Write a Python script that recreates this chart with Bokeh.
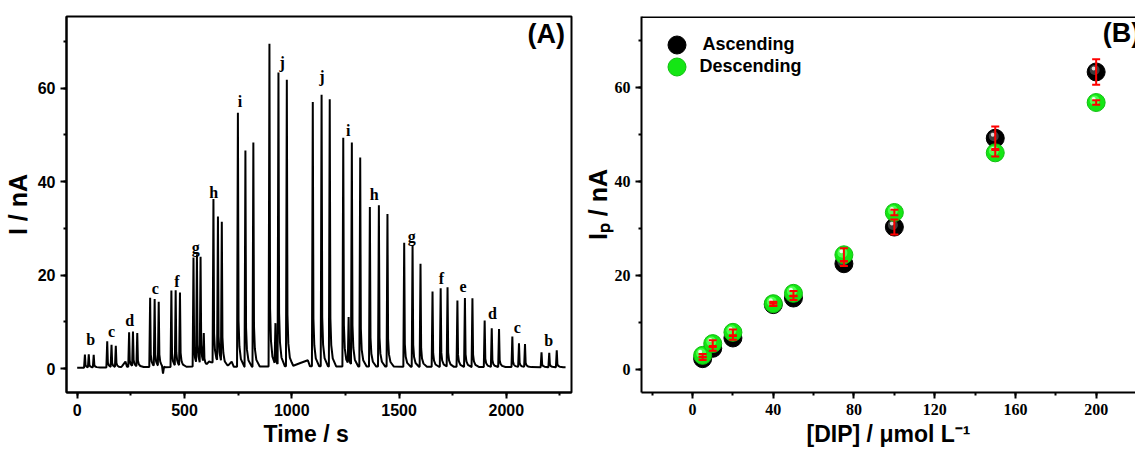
import numpy as np
from bokeh.plotting import figure
from bokeh.layouts import row
from bokeh.models import (Label, Legend, LegendItem, Whisker, TeeHead, ColumnDataSource,
                          SingleIntervalTicker, Span, Range1d)
from bokeh.transform import dodge
from bokeh.core.properties import value
from bokeh.embed import file_html
from bokeh.resources import INLINE

# ---------------- Panel A data (amperometric trace) ----------------
peak_t = [36, 54, 77, 140, 160, 180, 242, 260, 280, 340, 361, 380, 439, 459, 479,
          542, 558, 575, 590, 635, 656, 674, 749, 784, 821, 896, 924, 938, 977,
          1098, 1139, 1177, 1240, 1265, 1280, 1319, 1364, 1406, 1446, 1524, 1563, 1600,
          1656, 1694, 1726, 1772, 1807, 1842, 1899, 1932, 1966, 2028, 2059, 2087,
          2164, 2200, 2235]
peak_h = [2.8, 2.8, 2.7, 5.6, 4.7, 4.5, 7.4, 7.4, 7.1, 14.8, 14.3, 13.7, 16.4, 16.1, 15.6,
          23.3, 23.4, 22.9, 6.5, 35.0, 30.9, 29.9, 54.3, 46.2, 47.9, 69.0, 9.0, 62.6, 61.3,
          56.5, 58.1, 57.1, 48.9, 10.1, 47.6, 44.7, 34.1, 34.5, 32.6, 26.5, 26.0, 22.0,
          16.1, 16.8, 17.0, 14.2, 14.7, 14.7, 9.9, 8.3, 8.1, 6.5, 5.1, 4.9,
          3.2, 3.1, 3.6]
base_t = [0, 205, 225, 232, 395, 400, 405, 600, 615, 700, 720, 730, 1000, 1040, 1075, 1085, 1700, 2276]
base_y = [0.2, 0.3, 1.5, 0.4, 0.3, -1.3, 0.3, 0.5, 1.5, 0.5, 1.5, 0.4, 0.5, 1.2, 1.8, 0.5, 0.4, 0.3]

letters = ["b", "c", "d", "c", "f", "g", "h", "i", "j", "j", "i", "h", "g", "f", "e", "d", "c", "b"]
letter_t = [63, 160, 245, 364, 465, 552, 636, 759, 955, 1141, 1263, 1384, 1559, 1698, 1798, 1935, 2051, 2197]
letter_y = [6.2, 7.9, 10.3, 17.2, 18.6, 25.9, 37.7, 57.2, 65.4, 62.5, 51.0, 37.2, 28.2, 19.3, 17.5, 11.7, 8.8, 6.0]

# ---------------- Panel B data ----------------
conc = [5, 10, 20, 40, 50, 75, 100, 150, 200]
asc = [2.3, 4.5, 6.7, 13.8, 15.2, 22.5, 30.3, 49.2, 63.3]
asc_err = [0.3, 0.5, 0.4, 0.3, 0.4, 0.5, 1.6, 2.5, 2.7]
desc = [3.0, 5.5, 7.9, 14.0, 16.2, 24.4, 33.4, 46.1, 56.8]
desc_err = [0.3, 0.7, 0.6, 0.4, 0.5, 1.4, 0.6, 0.8, 0.5]

# ---------------- layout ----------------
H = 450
WA = 580
A_L, A_R, A_T, A_B = 65, 571, 15, 393
XA = (-49.8, 2303.7)
YA = (-5.1, 75.3)
WB = 1135 - WA
B_L, B_R, B_T, B_B = 638, 1135, 16, 392
XB = (-25.3, 219.5)
YB = (-4.9, 75.1)

SANS = "Liberation Sans"
SERIF = "Liberation Serif"


def to_data(px, py, L, R, T, B, xr, yr):
    return (xr[0] + (px - L) * (xr[1] - xr[0]) / (R - L),
            yr[1] - (py - T) * (yr[1] - yr[0]) / (B - T))


def style_axes(p, font, xint, yint):
    p.xaxis.ticker = SingleIntervalTicker(interval=xint, num_minor_ticks=2)
    p.yaxis.ticker = SingleIntervalTicker(interval=yint, num_minor_ticks=2)
    for ax in (p.xaxis[0], p.yaxis[0]):
        ax.axis_line_width = 2
        ax.axis_line_color = "black"
        ax.major_tick_line_width = 2
        ax.minor_tick_line_width = 2
        ax.major_tick_in = 0
        ax.major_tick_out = 6
        ax.minor_tick_in = 0
        ax.minor_tick_out = 3
        ax.major_label_text_font = font
        ax.major_label_text_font_style = "bold"
        ax.major_label_text_font_size = "16px"
        ax.major_label_text_color = "black"
        ax.major_label_standoff = 5
        ax.axis_label_text_font = SANS
        ax.axis_label_text_font_style = "bold"
        ax.axis_label_text_color = "black"
    p.xaxis.axis_label_text_font_size = "23px"
    p.yaxis.axis_label_text_font_size = "25px"
    p.xgrid.visible = False
    p.ygrid.visible = False


# ================= Panel A =================
pa = figure(width=WA, height=H, x_range=Range1d(*XA), y_range=Range1d(*YA),
            min_border_left=A_L, min_border_right=WA - A_R, min_border_top=A_T,
            min_border_bottom=H - A_B, output_backend="svg", toolbar_location=None)
pa.outline_line_color = "black"
pa.outline_line_width = 2
pa.background_fill_color = "white"
pa.border_fill_color = "white"
style_axes(pa, SANS, 500, 20)
pa.xaxis.axis_label = "Time / s\u00a0\u00a0\u00a0\u00a0"
pa.xaxis.axis_label_standoff = 2
pa.yaxis.axis_label = "I / nA"
pa.yaxis.axis_label_standoff = 3

# spike profile (shape of one injection response)
dt = [-4, 0, 3, 7, 14, 30]
frac = [0, 1, 0.18, 0.08, 0.03, 0]
grid = set(base_t)
for t in peak_t:
    for d in dt:
        if 0 <= t + d <= base_t[-1]:
            grid.add(t + d)
grid = np.array(sorted(grid), dtype=float)
trace = np.interp(grid, base_t, base_y)
for t, h in zip(peak_t, peak_h):
    trace = trace + h * np.interp(grid - t, dt, frac, left=0, right=0)
pa.line(grid, trace, line_color="black", line_width=2)

let_src = ColumnDataSource(dict(x=letter_t, y=letter_y, t=letters))
pa.text(x="x", y="y", text="t", source=let_src, text_font=value(SERIF),
        text_font_style="bold", text_font_size="16px", text_align="center",
        text_baseline="middle", text_color="black")

xa, ya = to_data(527, 32.5, A_L, A_R, A_T, A_B, XA, YA)
pa.add_layout(Label(x=xa, y=ya, text="(A)", text_font=SANS, text_font_style="bold",
                    text_font_size="27px", text_baseline="middle", text_color="black"))

# ================= Panel B =================
pb = figure(width=WB, height=H, x_range=Range1d(*XB), y_range=Range1d(*YB),
            min_border_left=B_L - WA, min_border_right=0, min_border_top=B_T,
            min_border_bottom=H - B_B, output_backend="svg", toolbar_location=None)
pb.outline_line_color = None
pb.background_fill_color = "white"
pb.border_fill_color = "white"
style_axes(pb, SERIF, 40, 20)
pb.xaxis.axis_label = "[DIP] / μmol L⁻¹"
pb.xaxis.axis_label_standoff = 3
pb.yaxis.axis_label = "Iₚ / nA"
pb.yaxis.axis_label_standoff = 0
pb.add_layout(Span(location=YB[1], dimension="width", line_color="black", line_width=3))

src_a = ColumnDataSource(dict(x=conc, y=asc,
                              up=[v + e for v, e in zip(asc, asc_err)],
                              lo=[v - e for v, e in zip(asc, asc_err)]))
src_d = ColumnDataSource(dict(x=conc, y=desc,
                              up=[v + e for v, e in zip(desc, desc_err)],
                              lo=[v - e for v, e in zip(desc, desc_err)]))

upx = (XB[1] - XB[0]) / (B_R - B_L)
upy = (YB[1] - YB[0]) / (B_B - B_T)

ra = pb.scatter("x", "y", source=src_a, size=18, fill_color="black", line_color="black")
pb.scatter(dodge("x", -1.5 * upx, range=pb.x_range), dodge("y", 2.0 * upy, range=pb.y_range),
           source=src_a, size=10, fill_color="#3c3c3c", line_color=None)
pb.scatter(dodge("x", -2.5 * upx, range=pb.x_range), dodge("y", 3.5 * upy, range=pb.y_range),
           source=src_a, size=4, fill_color="#d8d8d8", line_color=None)

rd = pb.scatter("x", "y", source=src_d, size=18, fill_color="#14e614", line_color="#10c010")
pb.scatter(dodge("x", -1.5 * upx, range=pb.x_range), dodge("y", 2.0 * upy, range=pb.y_range),
           source=src_d, size=10, fill_color="#4dff4d", line_color=None)
pb.scatter(dodge("x", -2.5 * upx, range=pb.x_range), dodge("y", 3.5 * upy, range=pb.y_range),
           source=src_d, size=4, fill_color="#e6ffe6", line_color=None)

for src in (src_a, src_d):
    pb.add_layout(Whisker(source=src, base="x", upper="up", lower="lo",
                          line_color="red", line_width=2, level="overlay",
                          upper_head=TeeHead(size=8, line_color="red", line_width=2),
                          lower_head=TeeHead(size=8, line_color="red", line_width=2)))

# legend: one Legend per entry so that the rows can sit close together
leg_common = dict(glyph_height=45, glyph_width=45, label_height=20, padding=0, margin=0,
                  border_line_color=None, background_fill_alpha=0,
                  label_text_font=SANS, label_text_font_style="bold",
                  label_text_font_size="18px", label_text_color="black")
pb.add_layout(Legend(items=[LegendItem(label="Ascending", renderers=[ra])],
                     location=(13.4, 325.2), label_standoff=3, **leg_common))
pb.add_layout(Legend(items=[LegendItem(label="Descending", renderers=[rd])],
                     location=(13.4, 303.5), label_standoff=0, **leg_common))

xb, yb = to_data(1102, 32, B_L, B_R, B_T, B_B, XB, YB)
pb.add_layout(Label(x=xb, y=yb, text="(B)", text_font=SANS, text_font_style="bold",
                    text_font_size="27px", text_baseline="middle", text_color="black"))

layout = row(pa, pb)
open("out.html", "w").write(file_html(layout, INLINE))
